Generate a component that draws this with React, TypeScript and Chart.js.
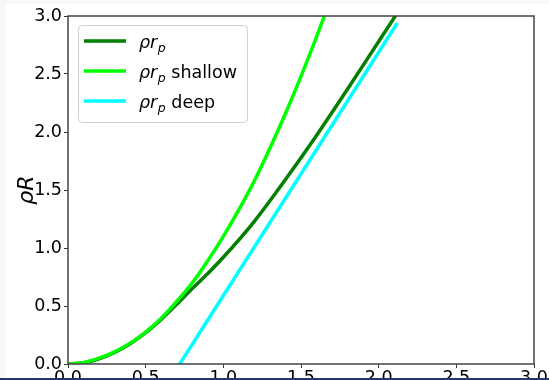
import { useEffect, useRef } from "react";
import { Chart, registerables } from "chart.js";

Chart.register(...registerables);

// ---- data ----
const tickLabels = ["0.0", "0.5", "1.0", "1.5", "2.0", "2.5", "3.0"];

const labels = ["ρr_p", "ρr_p shallow", "ρr_p deep"];
const legendMain = "ρr";
const legendSub = "p";
const legendSuffix = ["", " shallow", " deep"];

const xRp = [0, 0.1, 0.2, 0.3, 0.4, 0.5, 0.6, 0.7, 0.8, 0.9, 1.0, 1.2, 1.4, 1.6, 1.8, 2.0, 2.2];
const yRp = [0, 0.01, 0.045, 0.1, 0.175, 0.27, 0.385, 0.515, 0.65, 0.78, 0.92, 1.23, 1.59, 1.97, 2.37, 2.78, 3.19];

const xShallow = [0, 0.1, 0.2, 0.3, 0.4, 0.5, 0.6, 0.7, 0.8, 0.9, 1.0, 1.1, 1.2, 1.3, 1.4, 1.5, 1.6, 1.7];
const yShallow = [0, 0.012, 0.05, 0.105, 0.18, 0.275, 0.395, 0.54, 0.7, 0.89, 1.1, 1.33, 1.58, 1.86, 2.16, 2.48, 2.82, 3.18];

const xDeep = [0.7, 2.12];
const yDeep = [-0.04, 2.94];

const colors = ["#008000", "#00ff00", "#00ffff"];

const toPts = (xs: number[], ys: number[]) => xs.map((x, i) => ({ x, y: ys[i] }));

const FONT = "DejaVu Sans";

const framePlugin = {
  id: "frame",
  afterDatasetsDraw(chart: any) {
    const { ctx, chartArea: a } = chart;
    ctx.save();
    ctx.strokeStyle = "#444444";
    ctx.lineWidth = 1.5;
    ctx.strokeRect(a.left, a.top, a.right - a.left, a.bottom - a.top);
    ctx.restore();
  },
};

const legendPlugin = {
  id: "mplLegend",
  afterDraw(chart: any) {
    const { ctx } = chart;
    ctx.save();
    ctx.beginPath();
    ctx.roundRect(78.5, 25.5, 169, 97, 4);
    ctx.fillStyle = "rgba(255,255,255,0.8)";
    ctx.fill();
    ctx.strokeStyle = "#d0d0d0";
    ctx.lineWidth = 1;
    ctx.stroke();
    labels.forEach((_, i) => {
      const ly = 41 + 30 * i;
      ctx.beginPath();
      ctx.moveTo(84, ly);
      ctx.lineTo(126, ly);
      ctx.strokeStyle = colors[i];
      ctx.lineWidth = 3.5;
      ctx.lineCap = "butt";
      ctx.stroke();
      const base = ly + 7;
      let x = 139;
      ctx.fillStyle = "#000000";
      ctx.textBaseline = "alphabetic";
      ctx.textAlign = "left";
      ctx.font = `italic 17.5px "${FONT}"`;
      ctx.fillText(legendMain, x, base);
      x += ctx.measureText(legendMain).width;
      ctx.font = `italic 12.5px "${FONT}"`;
      ctx.fillText(legendSub, x + 0.5, base + 3.5);
      x += ctx.measureText(legendSub).width + 0.5;
      ctx.font = `17.5px "${FONT}"`;
      ctx.fillText(legendSuffix[i], x, base);
    });
    ctx.restore();
  },
};

export default function App() {
  const ref = useRef<HTMLCanvasElement>(null);

  useEffect(() => {
    if (!ref.current) return;
    const series = [toPts(xRp, yRp), toPts(xShallow, yShallow), toPts(xDeep, yDeep)];
    const chart = new Chart(ref.current, {
      type: "line",
      data: {
        datasets: series.map((d, i) => ({
          label: labels[i],
          data: d,
          borderColor: colors[i],
          backgroundColor: colors[i],
          borderWidth: 3.5,
          pointRadius: 0,
          fill: false,
          tension: 0,
          cubicInterpolationMode: "monotone" as const,
          clip: 0,
          order: 3 - i,
        })),
      },
      options: {
        animation: false,
        responsive: false,
        events: [],
        layout: { padding: { top: 16, right: 15, left: 0, bottom: 0 } },
        plugins: { legend: { display: false }, tooltip: { enabled: false } },
        scales: {
          x: {
            type: "linear",
            min: 0,
            max: 3,
            afterFit: (s: any) => {
              s.height = 16;
            },
            border: { display: false },
            grid: { drawOnChartArea: false, drawTicks: true, tickLength: 4, color: "#333333", lineWidth: 1 },
            ticks: {
              stepSize: 0.5,
              padding: 0,
              maxRotation: 0,
              autoSkip: false,
              color: "#000000",
              font: { family: FONT, size: 17.5 },
              callback: (v: any) => tickLabels[Math.round(Number(v) * 2)] ?? "",
            },
          },
          y: {
            type: "linear",
            min: 0,
            max: 3,
            afterFit: (s: any) => {
              s.width = 68;
            },
            border: { display: false },
            grid: { drawOnChartArea: false, drawTicks: true, tickLength: 4, color: "#333333", lineWidth: 1 },
            ticks: {
              stepSize: 0.5,
              padding: 2,
              autoSkip: false,
              color: "#000000",
              font: { family: FONT, size: 17.5 },
              callback: (v: any) => tickLabels[Math.round(Number(v) * 2)] ?? "",
            },
            title: {
              display: true,
              text: "ρR",
              color: "#000000",
              font: { family: FONT, size: 22, style: "italic" },
              padding: { top: 14, bottom: 0 },
            },
          },
        },
      },
      plugins: [framePlugin, legendPlugin],
    });
    return () => chart.destroy();
  }, []);

  return (
    <div style={{ position: "absolute", left: 0, top: 0, width: 549, height: 380, background: "#ffffff", overflow: "hidden" }}>
      <canvas ref={ref} width={549} height={380} style={{ display: "block" }} />
      <div style={{ position: "absolute", left: 0, top: 0, width: 549, height: 4, background: "#f7f7f7" }} />
      <div style={{ position: "absolute", left: 0, top: 0, width: 5, height: 380, background: "#f7f7f7" }} />
      <div style={{ position: "absolute", left: 0, top: 378, width: 549, height: 2, background: "#1d3a6b" }} />
    </div>
  );
}
